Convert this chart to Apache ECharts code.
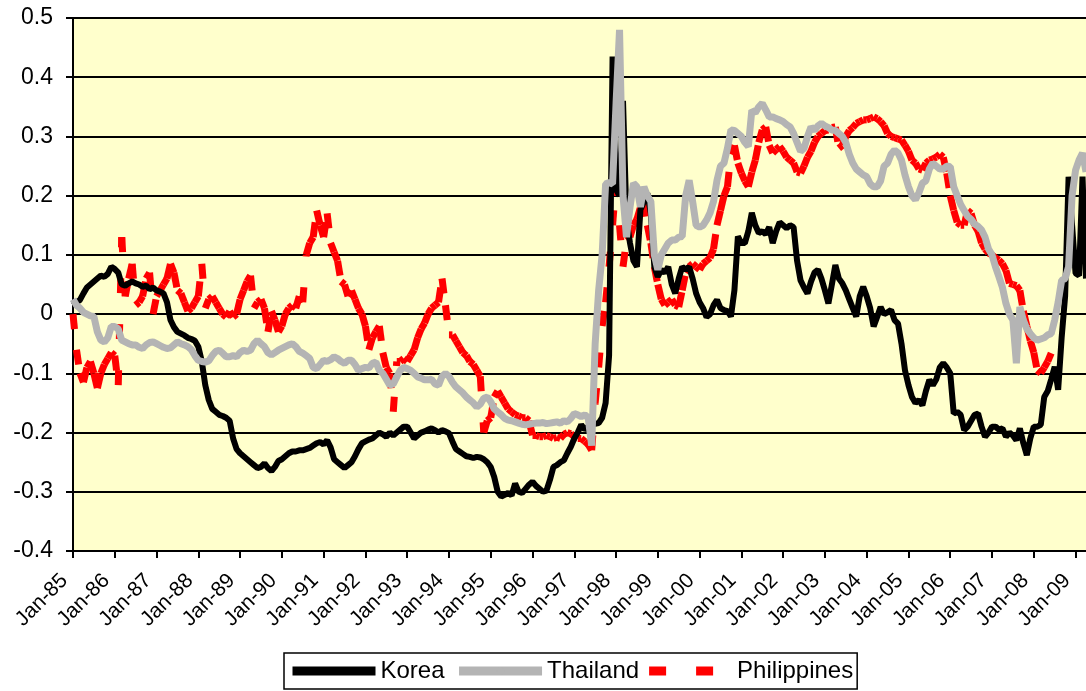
<!DOCTYPE html>
<html>
<head>
    <meta charset="utf-8">
    <title>Korea Thailand Philippines</title>
    <script src="https://cdn.jsdelivr.net/npm/echarts@6/dist/echarts.min.js"></script>
    <style>
        html, body { margin: 0; padding: 0; background: #fff; }
    </style>
</head>
<body>
    <div id="main" style="width: 1086px;height:691px;"></div>
    <script type="text/javascript">
        // monthly series, Jan-85 .. Apr-09 (one row per year)
        var korea = [
          0.015, 0.02, 0.024, 0.035, 0.045, 0.05, 0.055, 0.06, 0.065, 0.063, 0.068, 0.08,
          0.076, 0.07, 0.05, 0.048, 0.052, 0.055, 0.052, 0.05, 0.046, 0.048, 0.042, 0.045,
          0.04, 0.038, 0.035, 0.02, -0.01, -0.022, -0.03, -0.033, -0.036, -0.04, -0.042, -0.045,
          -0.055, -0.08, -0.12, -0.145, -0.16, -0.165, -0.17, -0.172, -0.175, -0.18, -0.21, -0.228,
          -0.235, -0.24, -0.245, -0.25, -0.255, -0.26, -0.258, -0.252, -0.26, -0.265, -0.258, -0.248,
          -0.245, -0.24, -0.235, -0.232, -0.232, -0.23, -0.23, -0.228, -0.226, -0.222, -0.218, -0.216,
          -0.22, -0.213, -0.225, -0.245, -0.25, -0.255, -0.26, -0.255, -0.25, -0.24, -0.228, -0.218,
          -0.215, -0.212, -0.21, -0.205, -0.2, -0.203, -0.207, -0.2, -0.205, -0.2, -0.195, -0.19,
          -0.19, -0.2, -0.21, -0.205, -0.2, -0.198, -0.195, -0.193, -0.196, -0.2, -0.196, -0.198,
          -0.201, -0.215, -0.228, -0.232, -0.236, -0.24, -0.241, -0.243, -0.241, -0.242, -0.245, -0.25,
          -0.258, -0.275, -0.3, -0.308, -0.305, -0.302, -0.306, -0.286, -0.3, -0.302, -0.295, -0.288,
          -0.283, -0.29, -0.295, -0.3, -0.298, -0.28, -0.258, -0.255, -0.25, -0.247, -0.235, -0.224,
          -0.21, -0.2, -0.187, -0.195, -0.19, -0.186, -0.185, -0.184, -0.175, -0.15, -0.07, 0.435,
          0.21, 0.2, 0.36, 0.16, 0.12, 0.09, 0.08, 0.176, 0.19, 0.204, 0.17, 0.08,
          0.063, 0.075, 0.07, 0.08, 0.05, 0.035, 0.06, 0.08, 0.075, 0.08, 0.06, 0.035,
          0.02, 0.01, -0.005, 0.0, 0.015, 0.024, 0.01, 0.007, 0.005, -0.004, 0.04, 0.131,
          0.12, 0.12, 0.14, 0.171, 0.15, 0.137, 0.14, 0.135, 0.147, 0.12, 0.14, 0.155,
          0.15, 0.145, 0.15, 0.147, 0.09, 0.057, 0.045, 0.035, 0.055, 0.07, 0.075, 0.06,
          0.04, 0.018, 0.05, 0.083, 0.06, 0.052, 0.04, 0.025, 0.01, -0.004, 0.03, 0.046,
          0.03, 0.01, -0.021, -0.005, 0.012, 0.0, 0.003, 0.007, -0.01, -0.016, -0.05, -0.095,
          -0.12, -0.14, -0.15, -0.145, -0.154, -0.13, -0.111, -0.12, -0.11, -0.09, -0.083, -0.09,
          -0.1, -0.168, -0.165, -0.17, -0.196, -0.19, -0.18, -0.17, -0.168, -0.19, -0.207, -0.2,
          -0.19, -0.19, -0.195, -0.193, -0.207, -0.2, -0.205, -0.213, -0.193, -0.218, -0.238, -0.21,
          -0.19, -0.19, -0.187, -0.14, -0.13, -0.11, -0.089, -0.128, -0.04, 0.03, 0.232, 0.15,
          0.069, 0.065, 0.232, 0.06
        ];
        var thailand = [
          0.025, 0.015, 0.01, 0.003, 0.0, -0.003, -0.004, -0.03, -0.044, -0.047, -0.04, -0.021,
          -0.021, -0.025, -0.044, -0.047, -0.05, -0.052, -0.052, -0.056, -0.058, -0.052, -0.048, -0.047,
          -0.05, -0.053, -0.056, -0.058, -0.057, -0.052, -0.047, -0.05, -0.052, -0.055, -0.06, -0.07,
          -0.078, -0.08, -0.081, -0.079, -0.07, -0.063, -0.061, -0.066, -0.072, -0.072, -0.07, -0.072,
          -0.065, -0.061, -0.063, -0.061, -0.05, -0.044, -0.05, -0.055, -0.065, -0.069, -0.065, -0.061,
          -0.058, -0.055, -0.052, -0.05, -0.055, -0.063, -0.066, -0.07, -0.075, -0.09, -0.092, -0.085,
          -0.078, -0.08, -0.077, -0.072, -0.075, -0.08, -0.083, -0.078, -0.078, -0.085, -0.095, -0.092,
          -0.09, -0.091, -0.083, -0.081, -0.095, -0.1, -0.11, -0.12, -0.118, -0.106, -0.095, -0.09,
          -0.092, -0.095, -0.1, -0.106, -0.108, -0.111, -0.111, -0.11, -0.118, -0.12, -0.105, -0.1,
          -0.105, -0.115, -0.123, -0.128, -0.133, -0.14, -0.145, -0.15, -0.157, -0.152, -0.142, -0.14,
          -0.148, -0.16, -0.165, -0.17, -0.176, -0.179, -0.18, -0.182, -0.184, -0.186, -0.187, -0.186,
          -0.185, -0.184, -0.184, -0.183, -0.185, -0.184, -0.183, -0.182, -0.184, -0.18, -0.182, -0.176,
          -0.168, -0.17, -0.173, -0.17, -0.175, -0.222, -0.05, 0.04, 0.1, 0.22, 0.222, 0.22,
          0.356, 0.48, 0.2, 0.13, 0.18, 0.221, 0.215, 0.181, 0.215, 0.2, 0.19, 0.1,
          0.075, 0.1, 0.11, 0.12, 0.125, 0.125, 0.13, 0.131, 0.2, 0.226, 0.19, 0.15,
          0.147, 0.15, 0.159, 0.171, 0.19, 0.226, 0.25, 0.255, 0.28, 0.311, 0.31, 0.305,
          0.3, 0.29, 0.283, 0.344, 0.34, 0.35, 0.356, 0.345, 0.333, 0.333, 0.33, 0.328,
          0.325, 0.32, 0.316, 0.305, 0.29, 0.275, 0.28, 0.3, 0.316, 0.31, 0.318, 0.322,
          0.318, 0.315, 0.311, 0.31, 0.305, 0.3, 0.29, 0.27, 0.255, 0.245, 0.24, 0.235,
          0.232, 0.22, 0.215, 0.215, 0.225, 0.25, 0.255, 0.27, 0.277, 0.272, 0.26, 0.235,
          0.215, 0.2, 0.193, 0.205, 0.221, 0.225, 0.245, 0.255, 0.25, 0.245, 0.245, 0.25,
          0.249, 0.215, 0.2, 0.185, 0.175, 0.165, 0.16, 0.152, 0.148, 0.142, 0.13, 0.11,
          0.1, 0.08, 0.063, 0.045, 0.018, 0.0, -0.01, -0.083, 0.012, -0.01, -0.025, -0.033,
          -0.04, -0.044, -0.042, -0.04, -0.035, -0.033, -0.01, 0.02, 0.057, 0.06, 0.08, 0.2,
          0.243, 0.26, 0.272, 0.24
        ];
        var philippines = [
          0.0, -0.06, -0.1, -0.115, -0.09, -0.08, -0.1, -0.125, -0.1, -0.085, -0.075, -0.065,
          -0.07, -0.12, 0.13, 0.03, 0.06, 0.085, 0.015, 0.02, 0.03, 0.06, 0.07, 0.0,
          0.03, 0.04, 0.05, 0.06, 0.085, 0.07, 0.04, 0.035, 0.02, 0.005, 0.01, 0.02,
          0.03, 0.085, 0.01, 0.025, 0.03, 0.02, 0.01, 0.0, -0.005, 0.005, -0.005, 0.0,
          0.025, 0.04, 0.055, 0.065, 0.01, 0.02, 0.025, 0.01, -0.03, 0.005, -0.01, -0.03,
          -0.02, 0.0, 0.01, 0.015, 0.01, 0.03, 0.02, 0.1, 0.12, 0.13, 0.175, 0.15,
          0.13, 0.17, 0.12, 0.105, 0.09, 0.055, 0.05, 0.03, 0.04, 0.025, 0.01, 0.0,
          -0.02, -0.06, -0.04, -0.03, -0.02, -0.065, -0.09, -0.1, -0.165, -0.08, -0.08, -0.075,
          -0.08, -0.07, -0.06, -0.04, -0.025, -0.015, 0.0, 0.01, 0.015, 0.02, 0.06, 0.015,
          -0.035, -0.035, -0.045, -0.055, -0.065, -0.07, -0.08, -0.085, -0.095, -0.105, -0.2, -0.18,
          -0.175, -0.14, -0.13, -0.14, -0.15, -0.16, -0.165, -0.17, -0.172, -0.175, -0.175, -0.18,
          -0.205, -0.205, -0.207, -0.207, -0.205, -0.207, -0.21, -0.208, -0.21, -0.203, -0.2, -0.202,
          -0.207, -0.21, -0.21, -0.215, -0.22, -0.23, -0.15, -0.09, -0.02, 0.02, 0.08, 0.15,
          0.225, 0.15, 0.08, 0.125, 0.13, 0.15, 0.16, 0.18, 0.19, 0.15, 0.12, 0.08,
          0.05, 0.025, 0.015, 0.02, 0.025, 0.015, 0.012, 0.04, 0.07, 0.08, 0.085, 0.08,
          0.075, 0.085, 0.09, 0.095, 0.11, 0.15, 0.175, 0.2, 0.215, 0.27, 0.285, 0.255,
          0.238, 0.225, 0.215, 0.24, 0.26, 0.29, 0.311, 0.316, 0.285, 0.272, 0.278, 0.283,
          0.275, 0.265, 0.26, 0.255, 0.24, 0.238, 0.25, 0.265, 0.275, 0.29, 0.3, 0.305,
          0.31, 0.311, 0.315, 0.316, 0.28, 0.285, 0.3, 0.31, 0.315, 0.322, 0.325, 0.328,
          0.328, 0.33, 0.333, 0.33, 0.325, 0.318, 0.305, 0.3, 0.298, 0.296, 0.294, 0.285,
          0.275, 0.26, 0.255, 0.245, 0.243, 0.255, 0.26, 0.262, 0.265, 0.27, 0.265, 0.238,
          0.2, 0.175, 0.155, 0.15, 0.15, 0.175, 0.17, 0.15, 0.14, 0.12, 0.11, 0.103,
          0.1, 0.095, 0.091, 0.085, 0.074, 0.052, 0.05, 0.048, 0.04, 0.005, -0.02, -0.045,
          -0.065, -0.095, -0.1, -0.09, -0.08, -0.066
        ];

        // month categories, one per value; only the Jan ones get a tick and a label
        var monthNames = ['Jan','Feb','Mar','Apr','May','Jun','Jul','Aug','Sep','Oct','Nov','Dec'];
        var months = [];
        for (var i = 0; i < korea.length; i++) {
          var yy = (85 + Math.floor(i / 12)) % 100;
          months.push(monthNames[i % 12] + '-' + (yy < 10 ? '0' : '') + yy);
        }
        var isJan = function (index) { return index % 12 === 0; };

        var font = "'Liberation Sans', Arial, sans-serif";
        var myChart = echarts.init(document.getElementById('main'));

        var option = {
          animation: false,
          backgroundColor: '#ffffff',
          textStyle: { fontFamily: font, color: '#000' },
          grid: {
            left: 73, right: 0, top: 18, bottom: 140,
            show: true, backgroundColor: '#FFFFCC', borderWidth: 0
          },
          legend: {
            left: 284, top: 653,
            padding: [6, 4],
            itemGap: 10,
            itemWidth: 83,
            itemHeight: 9,
            borderColor: '#000', borderWidth: 1.5,
            textStyle: { fontFamily: font, fontSize: 24, color: '#000' },
            data: [
              { name: 'Korea', lineStyle: { width: 9 } },
              { name: 'Thailand', lineStyle: { width: 9 } },
              // two red dashes, as the Excel legend draws them
              { name: 'Philippines', icon: 'path://M0,0H17V9H0Z M47,0H64V9H47Z M83,0L83,9' }
            ]
          },
          xAxis: {
            type: 'category',
            data: months,
            boundaryGap: false,
            axisLine: { onZero: false, lineStyle: { color: '#000', width: 2 } },
            axisTick: { interval: isJan, length: 7, lineStyle: { color: '#000', width: 2 } },
            axisLabel: {
              interval: isJan, rotate: 45, margin: 18, padding: [0, 12, 0, 0],
              fontSize: 21, color: '#000', fontFamily: font
            },
            splitLine: { show: false }
          },
          yAxis: {
            type: 'value',
            min: -0.4, max: 0.5, interval: 0.1,
            axisLine: { show: true, lineStyle: { color: '#000', width: 2 } },
            axisTick: { show: true, length: 7, lineStyle: { color: '#000', width: 2 } },
            axisLabel: {
              margin: 20, fontSize: 23, color: '#000', fontFamily: font,
              formatter: function (v) { return String(Math.round(v * 10) / 10); }
            },
            splitLine: { lineStyle: { color: '#000', width: 2 } }
          },
          series: [{
            name: 'Korea',
            type: 'line',
            data: korea,
            symbol: 'none',
            itemStyle: { color: '#000000' },
            lineStyle: { color: '#000000', width: 6 }
          }, {
            name: 'Thailand',
            type: 'line',
            data: thailand,
            symbol: 'none',
            itemStyle: { color: '#B4B4B4' },
            lineStyle: { color: '#B4B4B4', width: 7 }
          }, {
            // Excel restarts the dash on every segment, so draw segment by segment
            name: 'Philippines',
            type: 'custom',
            data: philippines.map(function (v, i) { return [i, v]; }),
            encode: { x: 0, y: 1 },
            itemStyle: { color: '#FF0000' },
            renderItem: function (params, api) {
              var i = params.dataIndex;
              if (i >= philippines.length - 1) return;
              var p0 = api.coord([i, philippines[i]]);
              var p1 = api.coord([i + 1, philippines[i + 1]]);
              return {
                type: 'line',
                shape: { x1: p0[0], y1: p0[1], x2: p1[0], y2: p1[1] },
                style: { stroke: '#FF0000', lineWidth: 7, lineDash: [15, 31], lineCap: 'butt' }
              };
            }
          }]
        };
        myChart.setOption(option);
    </script>
</body>
</html>
